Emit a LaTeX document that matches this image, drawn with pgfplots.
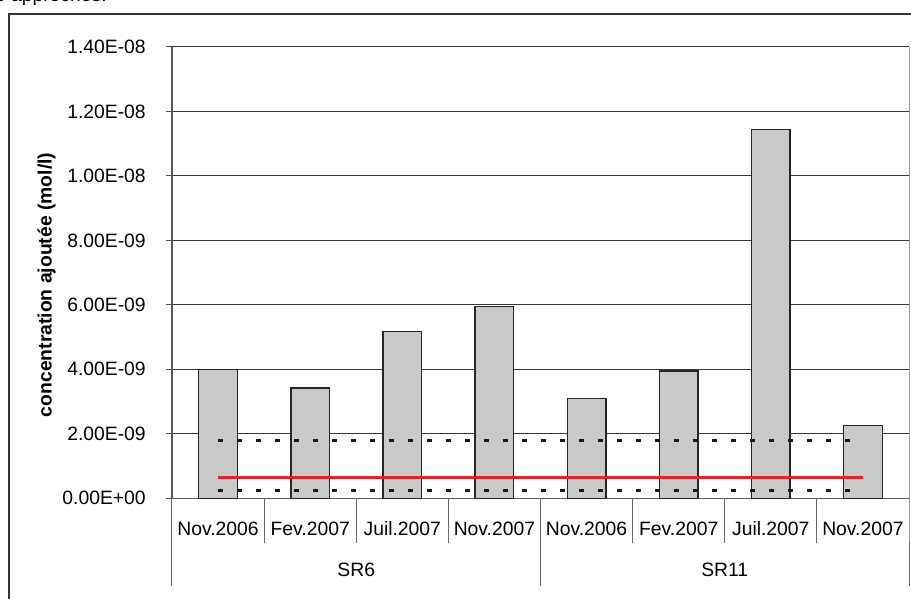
\documentclass[border=0pt]{standalone}
\usepackage{fontspec}
\setmainfont{Liberation Sans}
\usepackage{pgfplots}
\pgfplotsset{compat=1.18}

\definecolor{barfill}{RGB}{201,201,201}
\definecolor{limred}{RGB}{228,34,44}
\definecolor{gridc}{RGB}{55,55,55}

\newcommand{\lbl}{\fontsize{14.5pt}{17pt}\selectfont}

\begin{document}
\begin{tikzpicture}
\begin{axis}[
    at={(0,0)}, anchor=south west,
    scale only axis, width=552.75pt, height=338.5pt,
    xmin=-0.5, xmax=7.5,
    ymin=0, ymax=1.4e-8,
    scaled y ticks=false,
    axis x line*=bottom, axis y line*=left,
    axis line style={black!65, line width=0.8pt},
    xtick={0,...,7},
    xticklabels={Nov.2006,Fev.2007,Juil.2007,Nov.2007,Nov.2006,Fev.2007,Juil.2007,Nov.2007},
    xtick style={draw=none},
    xticklabel style={font=\lbl, anchor=base, inner sep=0pt, yshift=-28pt},
    ytick={0,2e-9,4e-9,6e-9,8e-9,1e-8,1.2e-8,1.4e-8},
    yticklabels={0.00E+00,2.00E-09,4.00E-09,6.00E-09,8.00E-09,1.00E-08,1.20E-08,1.40E-08},
    ytick align=outside, major tick length=4.5pt,
    ytick style={black!70, line width=0.8pt},
    yticklabel style={font=\lbl, anchor=east, inner sep=0pt, xshift=-15pt},
    ymajorgrids,
    major grid style={gridc, line width=0.8pt},
    ylabel={\bfseries concentration ajoutée (mol/l)},
    ylabel style={font=\lbl, at={(axis description cs:0,0.4727)}, anchor=center, yshift=94pt},
    clip=false, axis on top=false,
]
% bars
\addplot[ybar, bar width=0.42, fill=barfill, draw=black!85, line width=1pt] coordinates {
    (0, 4.00e-9)
    (1, 3.42e-9)
    (2, 5.17e-9)
    (3, 5.95e-9)
    (4, 3.10e-9)
    (5, 3.95e-9)
    (6, 11.44e-9)
    (7, 2.25e-9)
};
% limits
\addplot[black!90, line width=2.4pt, dash pattern=on 3.75pt off 10.5pt] coordinates {(0,1.79e-9) (7,1.79e-9)};
\addplot[black!90, line width=2.4pt, dash pattern=on 3.75pt off 10.5pt] coordinates {(0,0.24e-9) (7,0.24e-9)};
\addplot[limred, line width=2.2pt] coordinates {(0,0.64e-9) (7,0.64e-9)};

% category separators
\draw[black!60, line width=0.75pt] (axis cs:0.5,0) -- ++(0pt,-33.75pt);
\draw[black!60, line width=0.75pt] (axis cs:1.5,0) -- ++(0pt,-33.75pt);
\draw[black!60, line width=0.75pt] (axis cs:2.5,0) -- ++(0pt,-33.75pt);
\draw[black!60, line width=0.75pt] (axis cs:4.5,0) -- ++(0pt,-33.75pt);
\draw[black!60, line width=0.75pt] (axis cs:5.5,0) -- ++(0pt,-33.75pt);
\draw[black!60, line width=0.75pt] (axis cs:6.5,0) -- ++(0pt,-33.75pt);
\draw[black!60, line width=0.75pt] (axis cs:-0.5,0) -- ++(0pt,-65.8pt);
\draw[black!60, line width=0.75pt] (axis cs:3.5,0) -- ++(0pt,-65.8pt);
\draw[black!60, line width=0.75pt] (axis cs:7.5,1.4e-8) -- (axis cs:7.5,0) -- ++(0pt,-65.8pt);

\node[font=\lbl, anchor=base] at (axis cs:1.5,0) [yshift=-59pt] {SR6};
\node[font=\lbl, anchor=base] at (axis cs:5.5,0) [yshift=-59pt] {SR11};
\end{axis}

% outer frame of the chart and cut page text
\draw[black!80, line width=1pt] (600pt,363.2pt) -- (-122.25pt,363.2pt) -- (-122.25pt,-120pt);
\node[font=\lbl, anchor=base west, inner sep=0pt] at (-133pt,372.5pt) {e approches.};

\pgfresetboundingbox
\useasboundingbox (-129pt,-75.5pt) rectangle (554.25pt,373.7pt);
\end{tikzpicture}
\end{document}
